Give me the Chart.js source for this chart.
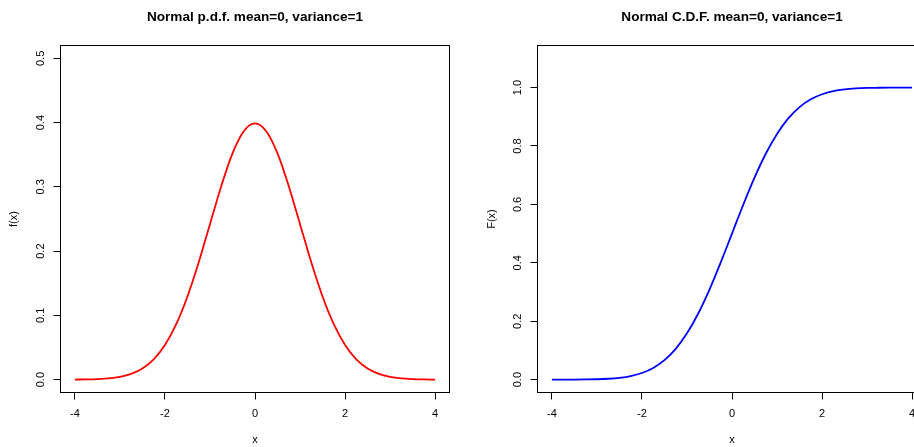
<!DOCTYPE html>
<html>
<head>
<meta charset="utf-8">
<script src="https://cdn.jsdelivr.net/npm/chart.js@4"></script>
<style>
  html, body { margin: 0; padding: 0; background: #fff; }
  #wrap { position: relative; width: 914px; height: 447px; overflow: hidden; }
  .panel { position: absolute; top: 0; height: 447px; }
</style>
</head>
<body>
<div id="wrap">
  <div class="panel" style="left:0; width:457px"><canvas id="pdfChart"></canvas></div>
  <div class="panel" style="left:457px; width:477px"><canvas id="cdfChart"></canvas></div>
</div>
<script>
// standard normal, sampled every 0.25 on [-4, 4]
const xValues = [-4, -3.75, -3.5, -3.25, -3, -2.75, -2.5, -2.25, -2, -1.75, -1.5, -1.25, -1, -0.75, -0.5, -0.25,
                 0, 0.25, 0.5, 0.75, 1, 1.25, 1.5, 1.75, 2, 2.25, 2.5, 2.75, 3, 3.25, 3.5, 3.75, 4];
const pdfValues = [0.0001, 0.0004, 0.0009, 0.0020, 0.0044, 0.0091, 0.0175, 0.0317, 0.0540, 0.0863, 0.1295,
                   0.1826, 0.2420, 0.3011, 0.3521, 0.3867, 0.3989, 0.3867, 0.3521, 0.3011, 0.2420, 0.1826,
                   0.1295, 0.0863, 0.0540, 0.0317, 0.0175, 0.0091, 0.0044, 0.0020, 0.0009, 0.0004, 0.0001];
const cdfValues = [0.0000, 0.0001, 0.0002, 0.0006, 0.0013, 0.0030, 0.0062, 0.0122, 0.0228, 0.0401, 0.0668,
                   0.1056, 0.1587, 0.2266, 0.3085, 0.4013, 0.5000, 0.5987, 0.6915, 0.7734, 0.8413, 0.8944,
                   0.9332, 0.9599, 0.9772, 0.9878, 0.9938, 0.9970, 0.9987, 0.9994, 0.9998, 0.9999, 1.0000];
const xTicks = [-4, -2, 0, 2, 4];
const pdfTicks = [0, 0.1, 0.2, 0.3, 0.4, 0.5];
const cdfTicks = [0, 0.2, 0.4, 0.6, 0.8, 1.0];

const FONT = "'Liberation Sans', Arial, Helvetica, sans-serif";

// frame around the plotting region
const boxPlugin = {
    id: 'box',
    afterDraw(chart) {
        const { left, top, right, bottom } = chart.chartArea;
        const ctx = chart.ctx;
        ctx.save();
        ctx.strokeStyle = '#000';
        ctx.lineWidth = 1;
        ctx.strokeRect(left, top, right - left, bottom - top);
        ctx.restore();
    }
};

function makePanel(id, cfg) {
    const ctx = document.getElementById(id).getContext('2d');
    return new Chart(ctx, {
        type: 'line',
        data: {
            datasets: [{
                data: xValues.map((x, i) => ({ x: x, y: cfg.values[i] })),
                borderColor: cfg.color,
                borderWidth: 1.8,
                pointRadius: 0,
                fill: false,
                cubicInterpolationMode: 'monotone'
            }]
        },
        options: {
            responsive: true,
            maintainAspectRatio: false,
            animation: false,
            layout: { padding: { left: 0, right: 7.5, top: 0, bottom: 0 } },
            plugins: {
                legend: { display: false },
                tooltip: { enabled: false },
                title: {
                    display: true,
                    text: cfg.title,
                    fullSize: false,
                    color: '#000',
                    font: { family: FONT, size: 13.6, weight: 'bold', lineHeight: 1.2 },
                    padding: { top: 8.8, bottom: 20.4 }
                }
            },
            scales: {
                x: {
                    type: 'linear',
                    min: -4.32,
                    max: 4.32,
                    afterBuildTicks: s => { s.ticks = xTicks.map(v => ({ value: v })); },
                    afterFit: s => { s.height = 54.5; s.paddingLeft = 0; s.paddingRight = 0; },
                    border: { display: false },
                    grid: { drawOnChartArea: false, drawTicks: true, tickLength: 7, tickColor: '#000' },
                    ticks: { color: '#000', padding: 8, maxRotation: 0, font: { family: FONT, size: 11 } },
                    title: {
                        display: true, text: 'x', color: '#000',
                        font: { family: FONT, size: 11, lineHeight: 1.2 },
                        padding: { top: 0, bottom: 0 }
                    }
                },
                y: {
                    min: cfg.yMin,
                    max: cfg.yMax,
                    afterBuildTicks: s => { s.ticks = cfg.yTicks.map(v => ({ value: v })); },
                    afterFit: s => { s.width = cfg.yWidth; s.paddingTop = 0; s.paddingBottom = 0; },
                    border: { display: false },
                    grid: { drawOnChartArea: false, drawTicks: true, tickLength: 7, tickColor: '#000' },
                    ticks: {
                        color: '#000',
                        padding: 5,
                        minRotation: 90,
                        maxRotation: 90,
                        crossAlign: 'center',
                        font: { family: FONT, size: 11 },
                        callback: v => v.toFixed(1)
                    },
                    title: {
                        display: true, text: cfg.yTitle, color: '#000',
                        font: { family: FONT, size: 11, lineHeight: 1.2 },
                        padding: { top: cfg.yTitlePad, bottom: 0 }
                    }
                }
            }
        },
        plugins: [boxPlugin]
    });
}

makePanel('pdfChart', {
    title: 'Normal p.d.f. mean=0, variance=1',
    yTitle: 'f(x)',
    values: pdfValues,
    color: '#ff0000',
    yTicks: pdfTicks,
    yMin: -0.02,
    yMax: 0.52,
    yWidth: 60.5,
    yTitlePad: 7.4
});

makePanel('cdfChart', {
    title: 'Normal C.D.F. mean=0, variance=1',
    yTitle: 'F(x)',
    values: cdfValues,
    color: '#0000ff',
    yTicks: cdfTicks,
    yMin: -0.044,
    yMax: 1.144,
    yWidth: 80.5,
    yTitlePad: 28.4
});
</script>
</body>
</html>
